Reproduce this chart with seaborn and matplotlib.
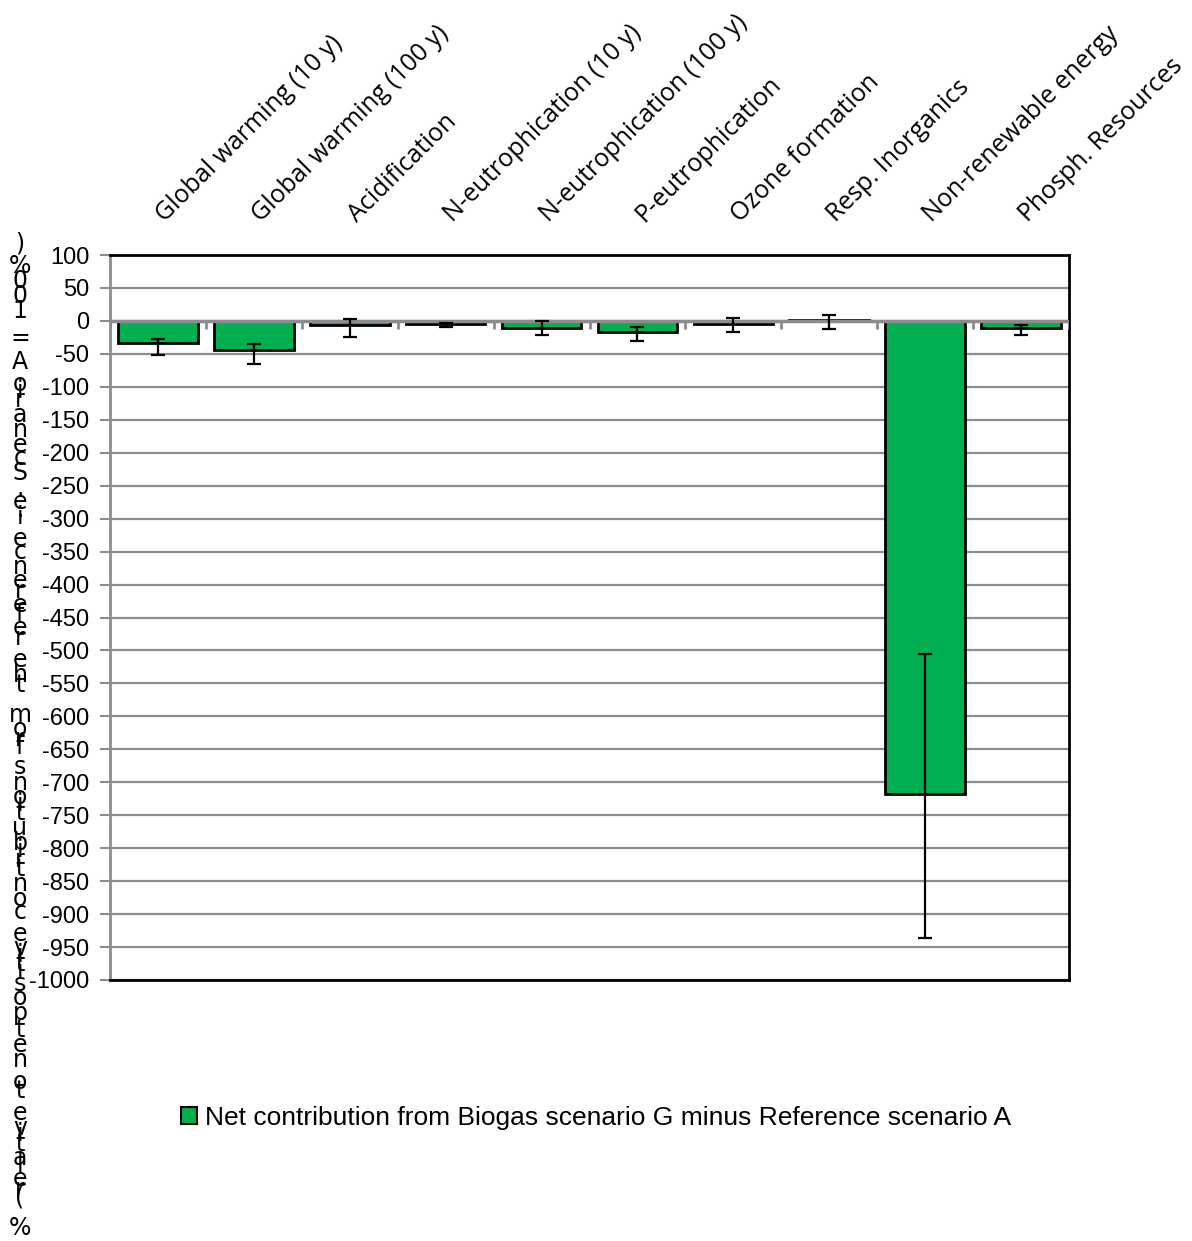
import seaborn as sns
import matplotlib.pyplot as plt
import pandas as pd
import numpy as np
from matplotlib.patches import Patch
from matplotlib.font_manager import FontProperties
from matplotlib.transforms import ScaledTranslation

sns.set_style("white")
plt.rcParams['font.family'] = ['DejaVu Sans']
plt.rcParams['text.color'] = 'black'

categories = ["Global warming (10 y)", "Global warming (100 y)", "Acidification",
              "N-eutrophication (10 y)", "N-eutrophication (100 y)", "P-eutrophication",
              "Ozone formation", "Resp. Inorganics", "Non-renewable energy", "Phosph. Resources"]
values = [-33, -44, -6.5, -4.5, -10.5, -17.5, -4.5, 2, -718, -10]
err_low = [-52, -65, -24, -8.5, -21, -31, -16.5, -13, -937, -21]
err_high = [-28, -35, 3, -3, 0, -9.5, 4.5, 8.5, -505, -6]
yticks = list(range(100, -1001, -50))
legend_label = "Net contribution from Biogas scenario G minus Reference scenario A"
ylabel = "% (relative to net positive contributions from the reference i.e. Scenario A = 100%)"

green = "#00B050"
grey = "#8C8C8C"

df = pd.DataFrame({"cat": categories, "val": values})

fig = plt.figure(figsize=(11.92, 12.41), dpi=100)
ax = fig.add_axes([110 / 1192, 1 - 980 / 1241, (1069 - 110) / 1192, (980 - 255) / 1241])

sns.barplot(data=df, x="cat", y="val", color=green, edgecolor="black",
            linewidth=2, width=0.83, errorbar=None, saturation=1, ax=ax, zorder=3)

pos = np.arange(len(categories))
lo = np.array(values) - np.array(err_low)
hi = np.array(err_high) - np.array(values)
ax.errorbar(pos, values, yerr=[lo, hi], fmt="none", ecolor="black",
            elinewidth=1.6, capsize=5, capthick=1.6, zorder=5)

# zero axis line with small ticks between categories
ax.axhline(0, color=grey, lw=2.5, zorder=4)
bounds = np.arange(len(categories) + 1) - 0.5
ax.vlines(bounds, -12, 0, color=grey, lw=2, zorder=4)

ax.set_ylim(-1000, 100)
ax.set_xlim(-0.5, len(categories) - 0.5)
ax.set_yticks(yticks)
ax.set_yticklabels([str(t) for t in yticks], fontsize=17, family="Liberation Sans")
ax.yaxis.grid(True, color=grey, lw=1.6, zorder=0)
ax.set_axisbelow(True)
ax.tick_params(axis="y", length=7, width=1.5, color=grey, pad=8, left=True,
               labelcolor="black")

ax.xaxis.set_ticks_position("top")
ax.set_xticks(pos)
ax.set_xticklabels(categories, rotation=45, ha="left", va="bottom",
                   rotation_mode="anchor", fontsize=18, family="Open Sans")
ax.tick_params(axis="x", length=0, pad=20, labelcolor="black")
shift = ScaledTranslation(8 / 72, 0, fig.dpi_scale_trans)
for lbl in ax.get_xticklabels():
    lbl.set_transform(lbl.get_transform() + shift)
ax.set_xlabel("")
ax.set_ylabel("")

for side in ["top", "right", "bottom"]:
    ax.spines[side].set_color("black")
    ax.spines[side].set_linewidth(2)
ax.spines["left"].set_color(grey)
ax.spines["left"].set_linewidth(2)

# y label drawn as stacked upright characters, like the source
fig.canvas.draw()
rend = fig.canvas.get_renderer()
fp = FontProperties(family="DejaVu Sans", size=17)
bar_w = rend.get_text_width_height_descent("|", fp, ismath=False)[0]
offs = []
for i in range(len(ylabel)):
    w = rend.get_text_width_height_descent(ylabel[:i] + "|", fp, ismath=False)[0] - bar_w
    offs.append(max(w, 0))
offs = np.array(offs)
y_bot, y_top = 1228, 243
offs = offs / offs[-1] * (y_bot - y_top)
for ch, o in zip(ylabel, offs):
    if ch == " ":
        continue
    fig.text(20 / 1192, 1 - (y_bot - o) / 1241, ch, fontproperties=fp,
             ha="center", va="center", color="black")

handle = Patch(facecolor=green, edgecolor="black", linewidth=1.5)
leg = fig.legend([handle], [legend_label], loc="center", bbox_to_anchor=(0.5, 1 - 1118 / 1241),
                 frameon=False, handlelength=0.6, handleheight=0.6,
                 handletextpad=0.3, prop={"family": "Liberation Sans", "size": 19})
for t in leg.get_texts():
    t.set_color("black")

fig.savefig("out.png", dpi=100)
